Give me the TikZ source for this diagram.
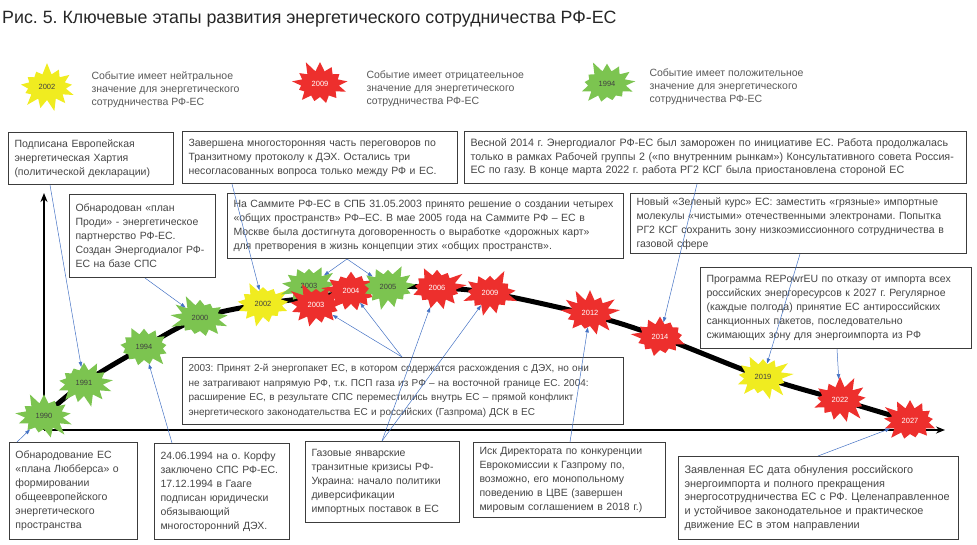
\documentclass[tikz,border=0pt]{standalone}
\usepackage{fontspec}
\setmainfont{Liberation Sans}
\usetikzlibrary{shapes.symbols,arrows.meta}
\definecolor{posgreen}{RGB}{124,196,80}
\definecolor{negred}{RGB}{237,47,45}
\definecolor{neuyellow}{RGB}{240,236,32}
\definecolor{linkblue}{RGB}{68,114,196}
\definecolor{boxgray}{RGB}{60,60,60}
\definecolor{txtgray}{RGB}{70,70,70}
\newcommand{\boxfont}{\fontsize{10.5}{14}\selectfont}
\newcommand{\yearfont}{\fontsize{7.5}{8}\selectfont}
\frenchspacing
\begin{document}
\begin{tikzpicture}[x=1pt,y=-1pt,
  evbox/.style={draw=boxgray, line width=1pt, fill=white, anchor=north west,
    align=left, inner xsep=6pt, inner ysep=3pt, font=\boxfont, text=txtgray},
  burst/.style={starburst, starburst points=13, starburst point height=12pt,
    inner sep=0pt, minimum width=62pt, minimum height=50pt, font=\yearfont},
  goodev/.style={burst, fill=posgreen, text=black!75},
  badev/.style={burst, fill=negred, text=white},
  neutev/.style={burst, fill=neuyellow, text=black!75},
  legtext/.style={anchor=west, align=left, font=\fontsize{10.5}{13}\selectfont, text=txtgray!90},
  link/.style={draw=linkblue, line width=0.5pt, -{Triangle[length=5pt,width=3.5pt]}},
  axis/.style={line width=2pt, -{Stealth[length=9pt,width=7pt]}}]
\useasboundingbox (0,0) rectangle (977,545);

% title
\node[anchor=west, inner sep=0pt, font=\fontsize{17.8}{20}\selectfont, text=black!85] (title) at (2,19)
  {Рис. 5. Ключевые этапы развития энергетического сотрудничества РФ-ЕС};

% legend
\node[neutev, random starburst=7] (lneu) at (47,87) {2002};
\node[legtext] (tneu) at (88,90) {Событие имеет нейтральное\\значение для энергетического\\сотрудничества РФ-ЕС};
\node[badev, random starburst=11] (lneg) at (320,84) {2009};
\node[legtext] (tneg) at (363,89) {Событие имеет отрицатеельное\\значение для энергетического\\сотрудничества РФ-ЕС};
\node[goodev, random starburst=5] (lpos) at (607,84) {1994};
\node[legtext] (tpos) at (646,87) {Событие имеет положительное\\значение для энергетического\\сотрудничества РФ-ЕС};

% axes
\coordinate (origin) at (44,430);
\draw[axis] (origin) -- (44,193);
\draw[axis] (origin) -- (945,430);

% timeline curve
\draw[line width=5pt, line cap=round] plot[smooth, tension=0.6] coordinates {(44,416) (84,383) (144,347) (200,318) (263,304) (316,297) (388,287) (437,288) (490,293) (590,315) (660,337) (763,377) (840,400) (910,421)};

% events on the curve
\foreach \nm/\x/\y/\kind/\yr in {1990/44/416/goodev/1990, 1991/84/383/goodev/1991, 1994/144/347/goodev/1994,
  2000/200/318/goodev/2000, 2002/263/304/neutev/2002, 2003g/309/286/goodev/2003, 2003r/316/305/badev/2003,
  2004/351/291/badev/2004, 2005/388/287/goodev/2005, 2006/437/288/badev/2006, 2009/490/293/badev/2009,
  2012/590/313/badev/2012, 2014/660/337/badev/2014, 2019/763/377/neutev/2019, 2022/840/400/badev/2022,
  2027/910/421/badev/2027}{
  \node[\kind, random starburst=\x] (s\nm) at (\x,\y) {\yr};
}

% text boxes, upper row
\node[evbox, text width=153pt, minimum height=52pt] (boxA) at (8,132)
  {Подписана Европейская\\энергетическая Хартия\\(политической декларации)};
\node[evbox, text width=263pt, minimum height=52pt] (boxB) at (182,131)
  {Завершена многосторонняя часть переговоров по\\Транзитному протоколу к ДЭХ. Остались три\\несогласованных вопроса только между РФ и ЕС.};
\node[evbox, text width=490pt, minimum height=52pt, font=\fontsize{10.7}{13.5}\selectfont] (boxC) at (464,131)
  {Весной 2014 г. Энергодиалог РФ-ЕС был заморожен по инициативе ЕС. Работа продолжалась\\только в рамках Рабочей группы 2 («по внутренним рынкам») Консультативного совета Россия-\\ЕС по газу. В конце марта 2022 г. работа РГ2 КСГ была приостановлена стороной ЕС};
\node[evbox, text width=134pt, minimum height=83pt] (boxD) at (69,194)
  {Обнародован «план\\Проди» - энергетическое\\партнерство РФ-ЕС.\\Создан Энергодиалог РФ-\\ЕС на базе СПС};
\node[evbox, text width=384pt, minimum height=65pt, font=\fontsize{10.5}{14}\selectfont] (boxE) at (227,193)
  {На Саммите РФ-ЕС в СПБ 31.05.2003 принято решение о создании четырех\\«общих пространств» РФ–ЕС. В мае 2005 года на Саммите РФ – ЕС в\\Москве была достигнута договоренность о выработке «дорожных карт»\\для претворения в жизнь концепции этих «общих пространств».};
\node[evbox, text width=324pt, minimum height=60pt] (boxF) at (630,193)
  {Новый «Зеленый курс» ЕС: заместить «грязные» импортные\\молекулы «чистыми» отечественными электронами. Попытка\\РГ2 КСГ сохранить зону низкоэмиссионного сотрудничества в\\газовой сфере};
\node[evbox, text width=259pt, minimum height=81pt] (boxG) at (700,267)
  {Программа REPowrEU по отказу от импорта всех\\российских энергоресурсов к 2027 г. Регулярное\\(каждые полгода) принятие ЕС антироссийских\\санкционных пакетов, последовательно\\сжимающих зону для энергоимпорта из РФ};
\node[evbox, text width=429pt, minimum height=67pt, font=\fontsize{10}{14.5}\selectfont] (boxH) at (182,357)
  {2003: Принят 2-й энергопакет ЕС, в котором содержатся расхождения с ДЭХ, но они\\не затрагивают напрямую РФ, т.к. ПСП газа из РФ – на восточной границе ЕС. 2004:\\расширение ЕС, в результате СПС переместились внутрь ЕС – прямой конфликт\\энергетического законодательства ЕС и российских (Газпрома) ДСК в ЕС};

% text boxes, lower row
\node[evbox, text width=116pt, minimum height=97pt] (boxI) at (9,442)
  {Обнародование ЕС\\«плана Любберса» о\\формировании\\общеевропейского\\энергетического\\пространства};
\node[evbox, text width=123pt, minimum height=96pt] (boxJ) at (154,443)
  {24.06.1994 на о. Корфу\\заключено СПС РФ-ЕС.\\17.12.1994 в Гааге\\подписан юридически\\обязывающий\\многосторонний ДЭХ.};
\node[evbox, text width=142pt, minimum height=81pt] (boxK) at (305,441)
  {Газовые январские\\транзитные кризисы РФ-\\Украина: начало политики\\диверсификации\\импортных поставок в ЕС};
\node[evbox, text width=180pt, minimum height=75pt] (boxL) at (473,442)
  {Иск Директората по конкуренции\\Еврокомиссии к Газпрому по,\\возможно, его монопольному\\поведению в ЦВЕ (завершен\\мировым соглашением в 2018 г.)};
\node[evbox, text width=268pt, minimum height=83pt, font=\fontsize{10.9}{13.8}\selectfont] (boxM) at (678,456)
  {Заявленная ЕС дата обнуления российского\\энергоимпорта и полного прекращения\\энергосотрудничества ЕС с РФ. Целенаправленное\\и устойчивое законодательное и практическое\\движение ЕС в этом направлении};

% connectors
\draw[link] ([xshift=42pt]boxA.south west) -- (s1991);
\draw[link] ([xshift=50pt]boxB.south west) -- (s2002);
\draw[link] ([xshift=233pt]boxC.south west) -- (s2014);
\draw[link] ([xshift=76pt]boxD.south west) -- (s2000);
\draw[link] ([xshift=120pt]boxE.south west) -- (s2003g);
\draw[link] ([xshift=120pt]boxE.south west) -- (s2005);
\draw[link] ([xshift=170pt]boxF.south west) -- (s2019);
\draw[link] ([xshift=137pt]boxG.south west) -- (s2022);
\draw[link] ([xshift=220pt]boxH.north west) -- (s2003r);
\draw[link] ([xshift=220pt]boxH.north west) -- (s2004);
\draw[link] ([xshift=8pt]boxI.north west) -- (s1990);
\draw[link] ([xshift=18pt]boxJ.north west) -- (s1994);
\draw[link] ([xshift=77pt]boxK.north west) -- (s2006);
\draw[link] ([xshift=77pt]boxK.north west) -- (s2009);
\draw[link] ([xshift=97pt]boxL.north west) -- (s2012);
\draw[link] ([xshift=140pt]boxM.north west) -- (s2027);
\end{tikzpicture}
\end{document}
